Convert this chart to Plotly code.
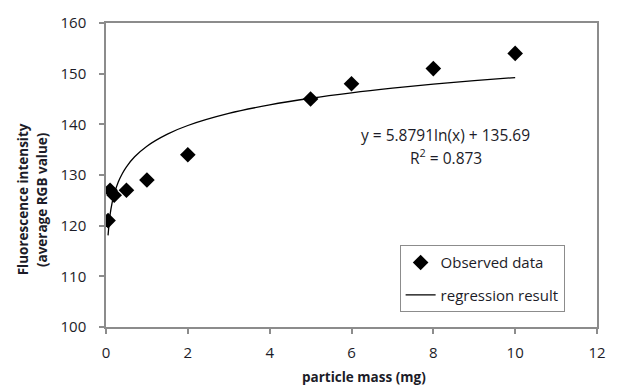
import plotly.graph_objects as go

# Observed data
mass_mg = [0.05, 0.1, 0.2, 0.5, 1, 2, 5, 6, 8, 10]
intensity = [121, 127, 126, 127, 129, 134, 145, 148, 151, 154]

# Regression curve points (read from the plotted trendline)
reg_x = [0.05, 0.1, 0.15, 0.2, 0.3, 0.4, 0.5, 0.7, 1, 1.5, 2, 3, 4, 5, 6, 7, 8, 9, 10]
reg_y = [118.08, 122.15, 124.54, 126.23, 128.61, 130.30, 131.62, 133.59, 135.69,
         138.07, 139.77, 142.15, 143.84, 145.15, 146.22, 147.13, 147.92, 148.61, 149.23]

eq_line1 = "y = 5.8791ln(x) + 135.69"
eq_line2 = "R<sup>2</sup> = 0.873"
x_ticks = [0, 2, 4, 6, 8, 10, 12]
y_ticks = [100, 110, 120, 130, 140, 150, 160]

FONT = "'Open Sans', sans-serif"
TXT = "#1c1c28"
AX = "#8c8c8c"

fig = go.Figure()
fig.add_trace(go.Scatter(x=mass_mg, y=intensity, mode="markers", name="Observed data",
                         legendgroup="a",
                         marker=dict(symbol="diamond", size=12, color="black")))
fig.add_trace(go.Scatter(x=reg_x, y=reg_y, mode="lines", name="regression result",
                         legendgroup="b",
                         line=dict(color="black", width=1.3, shape="spline")))

fig.update_layout(
    width=618, height=388,
    margin=dict(l=106, r=15, t=15, b=61),
    paper_bgcolor="white", plot_bgcolor="white",
    font=dict(family=FONT, size=14, color=TXT),
    showlegend=True,
    legend=dict(x=0.598, y=0.269, xanchor="left", yanchor="top",
                bordercolor=AX, borderwidth=1, bgcolor="white",
                font=dict(size=15, color=TXT), tracegroupgap=10,
                traceorder="grouped", itemwidth=30),
    xaxis=dict(range=[0, 12], tickvals=x_ticks, showgrid=False, zeroline=False,
               showline=True, linecolor=AX, linewidth=1.5, mirror=True,
               ticks="outside", ticklen=5, tickcolor=AX, tickwidth=1.5,
               ticklabelstandoff=6,
               tickfont=dict(size=15, color=TXT)),
    yaxis=dict(range=[100, 160], tickvals=y_ticks, showgrid=False, zeroline=False,
               showline=True, linecolor=AX, linewidth=1.5, mirror=True,
               ticks="outside", ticklen=5, tickcolor=AX, tickwidth=1.5,
               ticklabelstandoff=10,
               tickfont=dict(size=15, color=TXT)),
)

fig.add_annotation(x=0.525, y=0.0, xref="paper", yref="paper", yshift=-50,
                   xanchor="center", yanchor="middle",
                   text="<b>particle mass (mg)</b>", showarrow=False,
                   font=dict(size=13.5, color=TXT))
fig.add_annotation(x=-0.169, y=0.42, xref="paper", yref="paper", textangle=-90,
                   xanchor="center", yanchor="middle",
                   text="<b>Fluorescence intensity</b>",
                   showarrow=False, font=dict(size=13.5, color=TXT))
fig.add_annotation(x=-0.1288, y=0.42, xref="paper", yref="paper", textangle=-90,
                   xanchor="center", yanchor="middle",
                   text="<b>(average RGB value)</b>",
                   showarrow=False, font=dict(size=13.5, color=TXT))
fig.add_annotation(x=0.692, y=0.631, xref="paper", yref="paper",
                   xanchor="center", yanchor="middle",
                   text=eq_line1, showarrow=False,
                   font=dict(size=15.5, color=TXT))
fig.add_annotation(x=0.692, y=0.558, xref="paper", yref="paper",
                   xanchor="center", yanchor="middle",
                   text=eq_line2, showarrow=False,
                   font=dict(size=15.5, color=TXT))

fig.write_html("out.html")
